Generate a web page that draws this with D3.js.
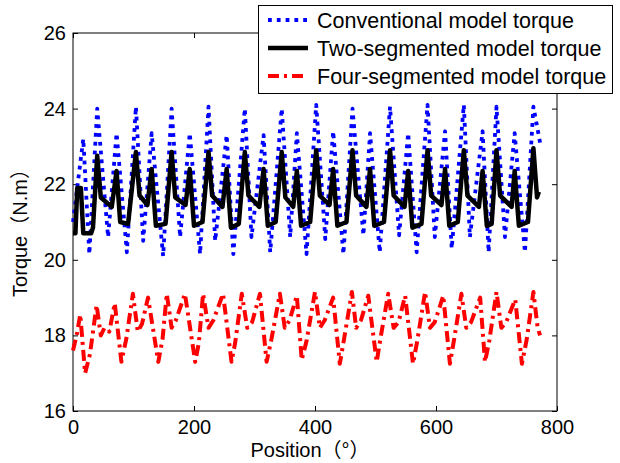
<!DOCTYPE html>
<html>
  <head>
    <meta charset="utf-8">
    <title>Torque vs position</title>
    <script src="https://cdn.jsdelivr.net/npm/d3@7/dist/d3.min.js"></script>
    <style type="text/css">
      body { margin: 0; background: #fff; }
      text { font-family: "Liberation Sans", Arial, "Noto Sans CJK SC", sans-serif; fill: #000; }
    </style>
  </head>
  <body>
    <script>
    //Width and height
    var svgWidth = 620;
    var svgHeight = 463;

    //Series (position in degrees, torque in N.m)
    var convPos = [0, 17, 27, 40, 58, 72, 89, 104, 116, 130, 149, 163, 177, 193, 210, 224, 235, 254, 265, 284,
                   295, 315, 326, 345, 359, 370, 386, 402, 417, 430, 447, 462, 480, 491, 507, 524, 539, 554,
                   568, 586, 598, 615, 626, 646, 656, 677, 687, 700, 714, 730, 747, 761, 772];
    var convTorque = [21.0, 23.2, 20.15, 24.0, 20.6, 23.35, 20.2, 24.05, 20.5, 23.35, 20.1, 24.0, 20.6, 23.35, 20.15, 24.05, 20.5, 23.3, 20.15, 24.0,
                      20.6, 23.3, 20.2, 24.0, 20.6, 23.35, 20.15, 24.1, 20.55, 23.4, 20.15, 24.0, 20.65, 23.35, 20.2, 24.05, 20.65, 23.35,
                      20.2, 24.1, 20.6, 23.4, 20.3, 24.1, 20.6, 23.4, 20.2, 24.05, 20.6, 23.35, 20.2, 24.05, 23.1];

    var twoPos = [0, 4, 7, 13, 17, 30, 33,
                  40, 46, 64, 72, 78, 91,
                  104, 110, 123, 130, 137, 153,
                  163, 169, 186, 193, 200, 214,
                  224, 230, 247, 254, 261, 274,
                  284, 290, 308, 315, 322, 335,
                  345, 351, 364, 370, 377, 392,
                  402, 408, 424, 430, 437, 452,
                  462, 468, 485, 491, 498, 514,
                  524, 530, 548, 554, 561, 576,
                  586, 592, 609, 615, 622, 636,
                  646, 652, 671, 677, 684, 692,
                  700, 706, 725, 730, 737, 752,
                  761, 767, 770];
    var twoTorque = [20.7, 20.7, 21.9, 21.9, 20.7, 20.7, 20.85,
                     22.75, 21.65, 21.4, 22.35, 21.0, 20.95,
                     22.85, 21.7, 21.45, 22.4, 20.9, 20.95,
                     22.85, 21.65, 21.45, 22.4, 20.9, 21.0,
                     22.85, 21.7, 21.4, 22.4, 20.85, 20.95,
                     22.85, 21.7, 21.4, 22.4, 20.9, 21.0,
                     22.85, 21.65, 21.4, 22.35, 20.9, 21.0,
                     22.9, 21.7, 21.45, 22.4, 20.9, 21.0,
                     22.9, 21.7, 21.4, 22.4, 20.9, 21.0,
                     22.9, 21.7, 21.4, 22.35, 20.85, 20.95,
                     22.9, 21.7, 21.45, 22.4, 20.9, 21.0,
                     22.9, 21.7, 21.4, 22.35, 20.9, 20.95,
                     22.9, 21.7, 21.4, 22.35, 20.9, 21.0,
                     22.95, 21.65, 21.8];

    var fourPos = [0, 6, 12, 20, 28, 39, 46, 52, 60, 69,
                   80, 88, 99, 107, 114, 124,
                   141, 148, 155, 163, 170, 185,
                   202, 208, 215, 224, 232, 248,
                   262, 268, 279, 288, 296, 309,
                   320, 328, 342, 350, 358, 370,
                   378, 386, 400, 408, 416, 430,
                   441, 448, 461, 468, 476, 488,
                   502, 508, 521, 530, 538, 549,
                   562, 569, 582, 590, 598, 612,
                   623, 630, 642, 650, 658, 673,
                   681, 688, 700, 708, 716, 731,
                   742, 750, 761, 768, 772];
    var fourTorque = [17.6, 18.0, 18.55, 17.0, 17.5, 18.8, 18.0, 18.2, 18.1, 18.85,
                      17.3, 17.9, 19.1, 18.1, 18.3, 19.0,
                      17.3, 17.9, 19.1, 18.2, 18.4, 19.1,
                      17.3, 17.8, 19.1, 18.2, 18.4, 19.1,
                      17.3, 17.8, 19.1, 18.2, 18.35, 19.1,
                      17.3, 17.9, 19.1, 18.2, 18.4, 19.05,
                      17.35, 17.85, 19.15, 18.2, 18.4, 19.0,
                      17.25, 17.9, 19.15, 18.2, 18.4, 19.05,
                      17.3, 17.9, 19.1, 18.2, 18.35, 19.05,
                      17.25, 17.85, 19.15, 18.2, 18.35, 19.05,
                      17.25, 17.9, 19.1, 18.2, 18.35, 19.0,
                      17.3, 17.85, 19.15, 18.2, 18.35, 18.95,
                      17.25, 17.9, 19.15, 18.2, 18.0];

    var seriesNames = ["Conventional model torque", "Two-segmented model torque", "Four-segmented model torque"];
    var xTicks = [0, 200, 400, 600, 800];
    var yTicks = [16, 18, 20, 22, 24, 26];

    //Plot box (note: "top" is a reserved window property, so use other names)
    var boxLeft = 73, boxRight = 557, boxTop = 33, boxBottom = 411;

    var xScale = d3.scaleLinear().domain([0, 800]).range([boxLeft, boxRight]);
    var yScale = d3.scaleLinear().domain([16, 26]).range([boxBottom, boxTop]);

    var svg = d3.select("body")
      .append("svg")
        .attr("width", svgWidth)
        .attr("height", svgHeight);

    //Ticks point inward on all four sides
    var tickLen = 5;
    svg.append("g")
      .attr("transform", "translate(0," + boxBottom + ")")
      .call(d3.axisBottom(xScale).tickValues(xTicks).tickSizeInner(-tickLen).tickSizeOuter(0).tickPadding(9))
      .call(function(g) { g.select(".domain").remove(); });
    svg.append("g")
      .attr("transform", "translate(0," + boxTop + ")")
      .call(d3.axisTop(xScale).tickValues(xTicks).tickSizeInner(-tickLen).tickSizeOuter(0).tickFormat(""))
      .call(function(g) { g.select(".domain").remove(); });
    svg.append("g")
      .attr("transform", "translate(" + boxLeft + ",0)")
      .call(d3.axisLeft(yScale).tickValues(yTicks).tickSizeInner(-tickLen).tickSizeOuter(0).tickPadding(7))
      .call(function(g) { g.select(".domain").remove(); });
    svg.append("g")
      .attr("transform", "translate(" + boxRight + ",0)")
      .call(d3.axisRight(yScale).tickValues(yTicks).tickSizeInner(-tickLen).tickSizeOuter(0).tickFormat(""))
      .call(function(g) { g.select(".domain").remove(); });

    svg.selectAll(".tick text")
      .attr("font-size", "20px")
      .attr("font-family", null);
    svg.selectAll(".tick line").attr("stroke", "#000");

    //Frame
    svg.append("rect")
      .attr("x", boxLeft).attr("y", boxTop)
      .attr("width", boxRight - boxLeft).attr("height", boxBottom - boxTop)
      .attr("fill", "none").attr("stroke", "#000").attr("stroke-width", 1);

    //Lines
    var styles = [
      {color: "#0000ff", width: 3.8, dash: "3.8,5"},
      {color: "#000000", width: 4.5, dash: null},
      {color: "#ff0000", width: 4, dash: "11,5,3,5"}
    ];
    var series = [
      d3.zip(convPos, convTorque),
      d3.zip(twoPos, twoTorque),
      d3.zip(fourPos, fourTorque)
    ];

    var line = d3.line()
      .x(function(d) { return xScale(d[0]); })
      .y(function(d) { return yScale(d[1]); });

    series.forEach(function(s, i) {
      svg.append("path")
        .datum(s)
        .attr("d", line)
        .attr("fill", "none")
        .attr("stroke", styles[i].color)
        .attr("stroke-width", styles[i].width)
        .attr("stroke-dasharray", styles[i].dash)
        .attr("stroke-linejoin", "round");
    });

    //Axis titles
    svg.append("text")
      .attr("x", 310).attr("y", 457)
      .attr("text-anchor", "middle")
      .attr("font-size", "20px")
      .text("Position（°）");
    svg.append("text")
      .attr("transform", "translate(27,228) rotate(-90)")
      .attr("text-anchor", "middle")
      .attr("font-size", "20px")
      .text("Torque（N.m）");

    //Legend
    var legend = svg.append("g");
    legend.append("rect")
      .attr("x", 258.5).attr("y", 5.5)
      .attr("width", 354).attr("height", 88)
      .attr("fill", "#fff").attr("stroke", "#000").attr("stroke-width", 1);
    seriesNames.forEach(function(name, i) {
      var y = 20 + i * 28;
      legend.append("line")
        .attr("x1", 268).attr("x2", 308)
        .attr("y1", y).attr("y2", y)
        .attr("stroke", styles[i].color)
        .attr("stroke-width", styles[i].width)
        .attr("stroke-dasharray", styles[i].dash);
      legend.append("text")
        .attr("x", 317).attr("y", y + 7.5)
        .attr("font-size", "21.5px")
        .text(name);
    });
    </script>
  </body>
</html>
